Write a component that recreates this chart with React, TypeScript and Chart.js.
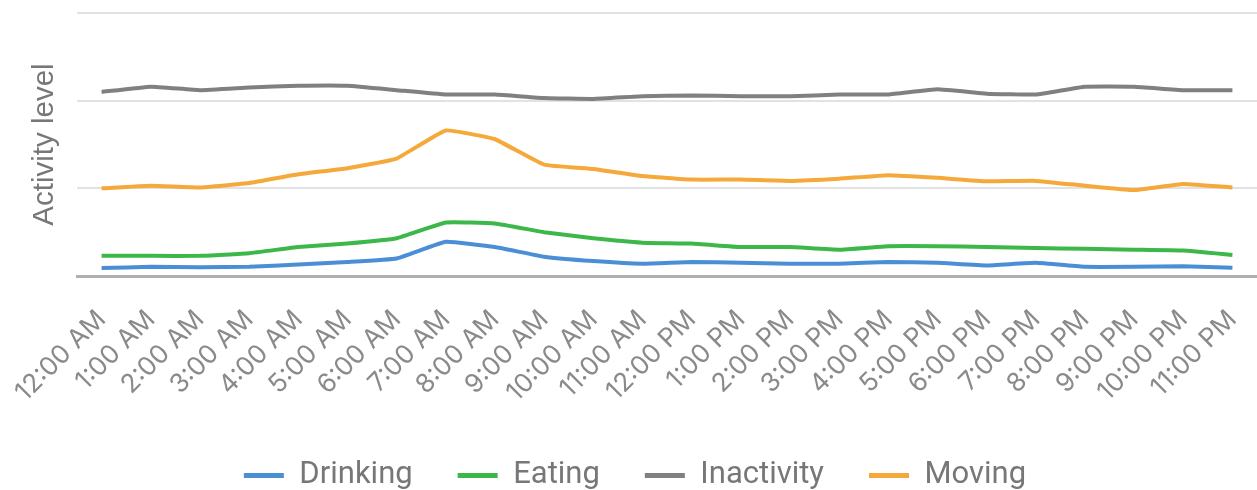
import React, { useEffect, useRef } from "react";
import { Chart, registerables } from "chart.js";

Chart.register(...registerables);

const hours = [
  "12:00 AM", "1:00 AM", "2:00 AM", "3:00 AM", "4:00 AM", "5:00 AM",
  "6:00 AM", "7:00 AM", "8:00 AM", "9:00 AM", "10:00 AM", "11:00 AM",
  "12:00 PM", "1:00 PM", "2:00 PM", "3:00 PM", "4:00 PM", "5:00 PM",
  "6:00 PM", "7:00 PM", "8:00 PM", "9:00 PM", "10:00 PM", "11:00 PM",
];

const drinking = [0.09, 0.105, 0.1, 0.105, 0.13, 0.16, 0.2, 0.39, 0.33, 0.22, 0.17, 0.14, 0.16, 0.15, 0.14, 0.14, 0.16, 0.15, 0.12, 0.15, 0.105, 0.105, 0.11, 0.095];
const eating = [0.23, 0.23, 0.23, 0.26, 0.33, 0.37, 0.43, 0.61, 0.6, 0.5, 0.43, 0.38, 0.37, 0.33, 0.33, 0.3, 0.34, 0.34, 0.33, 0.32, 0.31, 0.3, 0.29, 0.24];
const inactivity = [2.1, 2.16, 2.12, 2.15, 2.17, 2.17, 2.12, 2.07, 2.07, 2.03, 2.02, 2.05, 2.06, 2.05, 2.05, 2.07, 2.07, 2.13, 2.08, 2.07, 2.16, 2.16, 2.12, 2.12];
const moving = [1.0, 1.03, 1.01, 1.06, 1.16, 1.23, 1.34, 1.66, 1.56, 1.27, 1.22, 1.14, 1.1, 1.1, 1.085, 1.11, 1.15, 1.12, 1.08, 1.085, 1.03, 0.98, 1.05, 1.01];

const seriesNames = ["Drinking", "Eating", "Inactivity", "Moving"];
const seriesColors = ["#4a8fd6", "#3cb84a", "#808080", "#f5a93a"];
const seriesData = [drinking, eating, inactivity, moving];

export default function App() {
  const ref = useRef<HTMLCanvasElement | null>(null);

  useEffect(() => {
    if (!ref.current) return;
    const chart = new Chart(ref.current, {
      type: "line",
      data: {
        labels: hours,
        datasets: seriesNames.map((name, i) => ({
          label: name,
          data: seriesData[i],
          borderColor: seriesColors[i],
          backgroundColor: seriesColors[i],
          borderWidth: 4,
          pointRadius: 0,
          pointHoverRadius: 0,
          tension: 0.1,
          fill: false,
        })),
      },
      options: {
        animation: false,
        responsive: true,
        maintainAspectRatio: false,
        layout: { padding: { left: 13, right: 0, top: 13, bottom: 0 } },
        plugins: {
          tooltip: { enabled: false },
          legend: {
            position: "bottom",
            maxHeight: 75,
            labels: {
              boxWidth: 40,
              boxHeight: 5,
              padding: 45,
              color: "#777777",
              font: { family: "Roboto", size: 31 },
              generateLabels: (c: any) =>
                Chart.defaults.plugins.legend.labels
                  .generateLabels(c)
                  .map((l: any) => ({ ...l, lineWidth: 0 })),
            },
          },
        },
        scales: {
          x: {
            offset: true,
            grid: { display: false, drawTicks: true, tickLength: 28 },
            border: { display: true, color: "#b0b0b0", width: 3 },
            ticks: {
              color: "#8a8a8a",
              font: { family: "Inter", size: 26 },
              maxRotation: 45,
              minRotation: 45,
              autoSkip: false,
              padding: 0,
            },
            afterFit: (scale: any) => {
              scale.height = 139;
            },
          },
          y: {
            min: 0,
            max: 3,
            ticks: { display: false, stepSize: 1 },
            grid: { color: "#e2e2e2", lineWidth: 2, drawTicks: false },
            border: { display: false },
            title: {
              display: true,
              text: "Activity level",
              color: "#777777",
              font: { family: "Liberation Sans", size: 29.5 },
              padding: { top: 14, bottom: 14.6 },
            },
          },
        },
      },
    });
    return () => chart.destroy();
  }, []);

  return (
    <div style={{ position: "fixed", left: 0, top: 0, width: 1257, height: 490 }}>
      <canvas ref={ref} />
    </div>
  );
}
